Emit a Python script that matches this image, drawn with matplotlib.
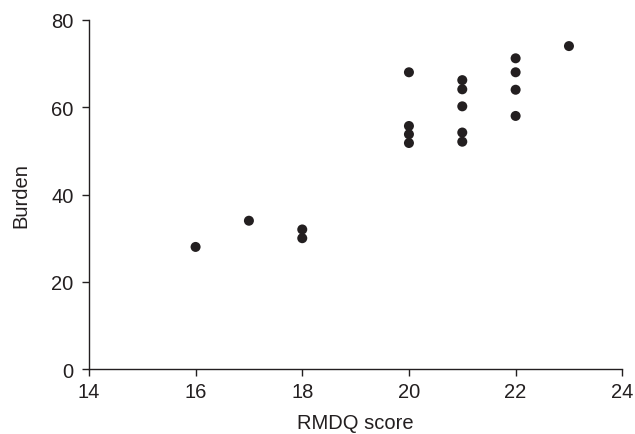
import matplotlib.pyplot as plt

# RMDQ score vs burden
rmdq = [16, 17, 18, 18, 20, 20, 20, 20, 21, 21, 21, 21, 21, 22, 22, 22, 22, 23]
burden = [28, 34, 32, 30, 68, 55.7, 53.8, 51.8, 66.2, 64.1, 60.2, 54.2, 52.1, 71.2, 68, 64, 58, 74]

x_ticks = [14, 16, 18, 20, 22, 24]
y_ticks = [0, 20, 40, 60, 80]

plt.rcParams['font.family'] = ['Liberation Sans', 'DejaVu Sans']

fig = plt.figure(figsize=(6.35, 4.35), dpi=100)
ax = fig.add_axes([0.14, 0.149, 0.84, 0.803])

ax.scatter(rmdq, burden, s=52, color='#231f20', edgecolors='none', zorder=3)

ax.set_xlim(14, 24)
ax.set_ylim(0, 80)
ax.set_xticks(x_ticks)
ax.set_yticks(y_ticks)

for side in ['top', 'right']:
    ax.spines[side].set_visible(False)
for side in ['left', 'bottom']:
    ax.spines[side].set_color('#231f20')
    ax.spines[side].set_linewidth(1.0)

ax.tick_params(direction='out', length=5, width=1.0, colors='#231f20',
               labelsize=14.5, labelcolor='#231f20')
ax.tick_params(axis='x', pad=4)
ax.tick_params(axis='y', pad=6)
ax.set_xlabel('RMDQ score', fontsize=14.5, color='#231f20', labelpad=9)
ax.set_ylabel('Burden', fontsize=14.5, color='#231f20', labelpad=15)

fig.savefig('out.png', dpi=100)
